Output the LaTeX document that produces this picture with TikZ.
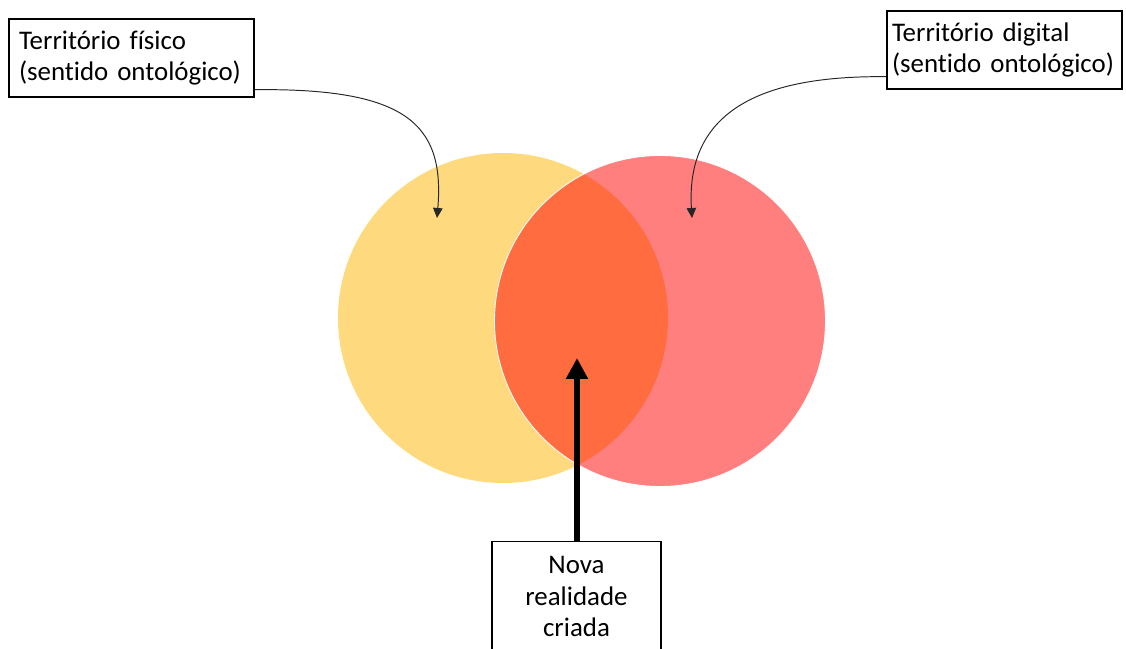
\documentclass[tikz,border=0pt]{standalone}
\usepackage{xcolor}
\usepackage{fontspec}
\setmainfont[Ligatures=CommonOff]{Carlito}
\usetikzlibrary{arrows.meta}

\definecolor{fisicoFill}{RGB}{255,217,125}
\definecolor{digitalFill}{RGB}{255,127,127}
\definecolor{novaFill}{RGB}{255,108,64}

\begin{document}
\begin{tikzpicture}[every node/.style={font=\fontsize{15.3pt}{18pt}\selectfont},
    labelbox/.style={draw, rectangle, thick, fill=white, align=left, text width=4.6cm, inner xsep=0.12cm, inner ysep=0.1cm},
    thinarrow/.style={-{Triangle[length=0.2cm, width=0.19cm]}, black!85, line width=0.55pt}]
    \useasboundingbox (0,0) rectangle (22.52,12.96);

    % Circles
    \fill[fisicoFill] (10.06,6.60) circle (3.30cm);
    \fill[digitalFill] (13.20,6.54) circle (3.31cm);
    \begin{scope}
        \clip (10.06,6.60) circle (3.30cm);
        \fill[novaFill] (13.20,6.54) circle (3.31cm);
    \end{scope}
    \draw[white, line width=0.5pt] (13.20,6.54) circle (3.31cm);

    % Arrow targets
    \coordinate (fisicoEnd) at (8.74,8.60);
    \coordinate (digitalEnd) at (13.84,8.60);
    \coordinate (novaEnd) at (11.54,5.80);

    % Labels
    \node[labelbox, minimum height=1.56cm, inner xsep=0.2cm, text width=4.5cm] (fisico) at (2.63,11.80) {Território físico\\
        (sentido ontológico)};
    \node[labelbox, text width=4.5cm, inner xsep=0.1cm, minimum height=1.56cm] (digital) at (20.09,11.96) {Território digital\\
        (sentido ontológico)};
    \node[labelbox, anchor=north, align=center, text width=3.14cm, minimum height=2.4cm, inner ysep=0.3cm, font=\fontsize{15.3pt}{17.8pt}\selectfont] (nova) at (11.53,2.14) {Nova\\
        realidade\\
        criada\\ \strut};

    % Edges
    \draw[thinarrow] ([yshift=0.16cm]fisico.south east) .. controls (8.1,11.2) and (8.9,10.5) .. (fisicoEnd);
    \draw[thinarrow] ([yshift=0.26cm]digital.south west) .. controls (15.5,11.45) and (13.7,10.9) .. (digitalEnd);
    \draw[-{Triangle[length=0.42cm, width=0.42cm]}, line width=3.4pt] (nova.north -| novaEnd) -- (novaEnd);
\end{tikzpicture}
\end{document}
